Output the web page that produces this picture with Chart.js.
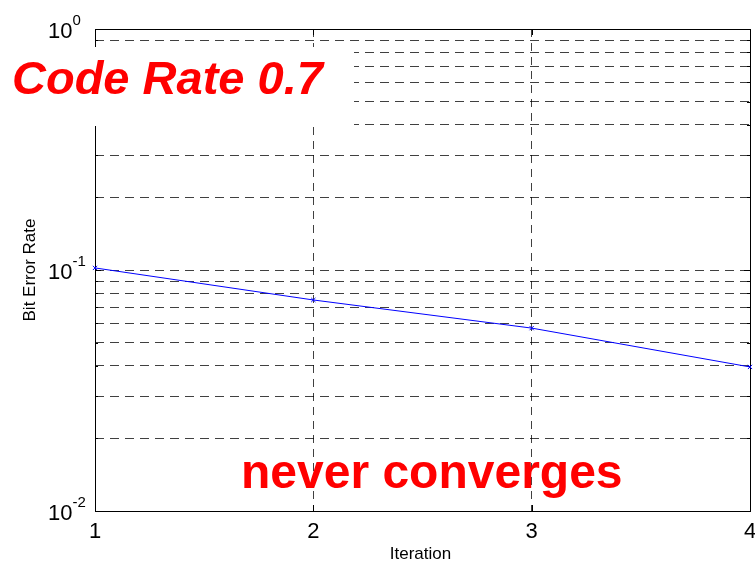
<!DOCTYPE html>
<html>
<head>
<meta charset="utf-8">
<script src="https://cdn.jsdelivr.net/npm/chart.js@4.4.1/dist/chart.umd.min.js"></script>
<style>
html,body{margin:0;padding:0;background:#fff;}
canvas{display:block;}
</style>
</head>
<body>
<canvas id="c" width="755" height="565"></canvas>
<script>
// ---- data ----
const iterations = [1, 2, 3, 4];
const bitErrorRate = [0.102, 0.0751, 0.0574, 0.0396];
const xTickLabels = ['1', '2', '3', '4'];
const yMajorTicks = [1, 0.1, 0.01];
const yMajorExponents = ['0', '-1', '-2'];
const yGridTicks = [0.01,0.02,0.03,0.04,0.05,0.06,0.07,0.08,0.09,0.1,0.2,0.3,0.4,0.5,0.6,0.7,0.8,0.9,1];
const xAxisTitle = 'Iteration';
const yAxisTitle = 'Bit Error Rate';
const annotationTop = 'Code Rate 0.7';
const annotationBottom = 'never converges';

const FONT = 'Arial, "Liberation Sans", Helvetica, sans-serif';

const overlay = {
  id: 'overlay',
  beforeDatasetsDraw(chart) {
    const ctx = chart.ctx, a = chart.chartArea;
    const xs = chart.scales.x, ys = chart.scales.y;
    ctx.save();
    ctx.strokeStyle = '#000';
    ctx.lineWidth = 1;
    ctx.beginPath();
    iterations.forEach(v => {
      const px = Math.round(xs.getPixelForValue(v)) + 0.5;
      ctx.moveTo(px, a.bottom); ctx.lineTo(px, a.bottom - 6);
      ctx.moveTo(px, a.top); ctx.lineTo(px, a.top + 6);
    });
    yGridTicks.forEach(v => {
      const py = Math.round(ys.getPixelForValue(v)) + 0.5;
      const len = yMajorTicks.includes(v) ? 6 : 3;
      ctx.moveTo(a.left, py); ctx.lineTo(a.left + len, py);
      ctx.moveTo(a.right, py); ctx.lineTo(a.right - len, py);
    });
    ctx.stroke();
    ctx.strokeRect(Math.round(a.left) + 0.5, Math.round(a.top) + 0.5,
                   Math.round(a.right - a.left), Math.round(a.bottom - a.top));
    ctx.restore();
  },
  afterDraw(chart) {
    const ctx = chart.ctx, a = chart.chartArea;
    const xs = chart.scales.x, ys = chart.scales.y;
    ctx.save();
    ctx.fillStyle = '#000';
    yMajorTicks.forEach((v, i) => {
      const py = ys.getPixelForValue(v);
      ctx.font = '22px ' + FONT;
      ctx.textAlign = 'left';
      ctx.textBaseline = 'alphabetic';
      ctx.fillText('10', 48, py + 9);
      const w = ctx.measureText('10').width;
      ctx.font = '15px ' + FONT;
      ctx.fillText(yMajorExponents[i], 48 + w, py - 4);
    });
    ctx.font = '22px ' + FONT;
    ctx.textAlign = 'center';
    iterations.forEach((v, i) => {
      ctx.fillText(xTickLabels[i], xs.getPixelForValue(v), 538);
    });
    ctx.font = '17px ' + FONT;
    ctx.fillText(xAxisTitle, (a.left + a.right) / 2 - 2, 559);
    ctx.save();
    ctx.translate(35, (a.top + a.bottom) / 2);
    ctx.rotate(-Math.PI / 2);
    ctx.textAlign = 'center';
    ctx.fillText(yAxisTitle, 0, 0);
    ctx.restore();
    ctx.fillStyle = '#fff';
    ctx.fillRect(4, 47, 350, 79);
    ctx.fillStyle = '#ff0000';
    ctx.textAlign = 'left';
    ctx.font = 'italic bold 47px ' + FONT;
    ctx.fillText(annotationTop, 12, 94);
    ctx.font = 'bold 48px ' + FONT;
    ctx.fillText(annotationBottom, 241, 488);
    ctx.restore();
  }
};

new Chart(document.getElementById('c'), {
  type: 'line',
  data: {
    datasets: [{
      data: iterations.map((x, i) => ({ x: x, y: bitErrorRate[i] })),
      borderColor: '#0000ff',
      backgroundColor: '#0000ff',
      borderWidth: 1,
      pointStyle: 'crossRot',
      pointRadius: 3,
      pointBorderWidth: 1,
      pointBorderColor: '#0000ff',
      tension: 0,
      fill: false,
      clip: false
    }]
  },
  options: {
    responsive: false,
    devicePixelRatio: 1,
    animation: false,
    layout: { padding: { top: 29, right: 3, left: 0, bottom: 0 } },
    plugins: { legend: { display: false }, tooltip: { enabled: false } },
    scales: {
      x: {
        type: 'linear', min: 1, max: 4,
        ticks: { display: false, stepSize: 1 },
        afterBuildTicks: s => { s.ticks = iterations.map(v => ({ value: v })); },
        afterFit: s => { s.height = 54; },
        grid: { color: 'rgba(0,0,0,0.75)', lineWidth: 1, drawTicks: false },
        border: { display: false, dash: [8, 6] }
      },
      y: {
        type: 'logarithmic', min: 0.01, max: 1,
        ticks: { display: false },
        afterBuildTicks: s => { s.ticks = yGridTicks.map(v => ({ value: v })); },
        afterFit: s => { s.width = 95; },
        grid: { color: 'rgba(0,0,0,0.75)', lineWidth: 1, drawTicks: false },
        border: { display: false, dash: [9, 6] }
      }
    }
  },
  plugins: [overlay]
});
</script>
</body>
</html>
